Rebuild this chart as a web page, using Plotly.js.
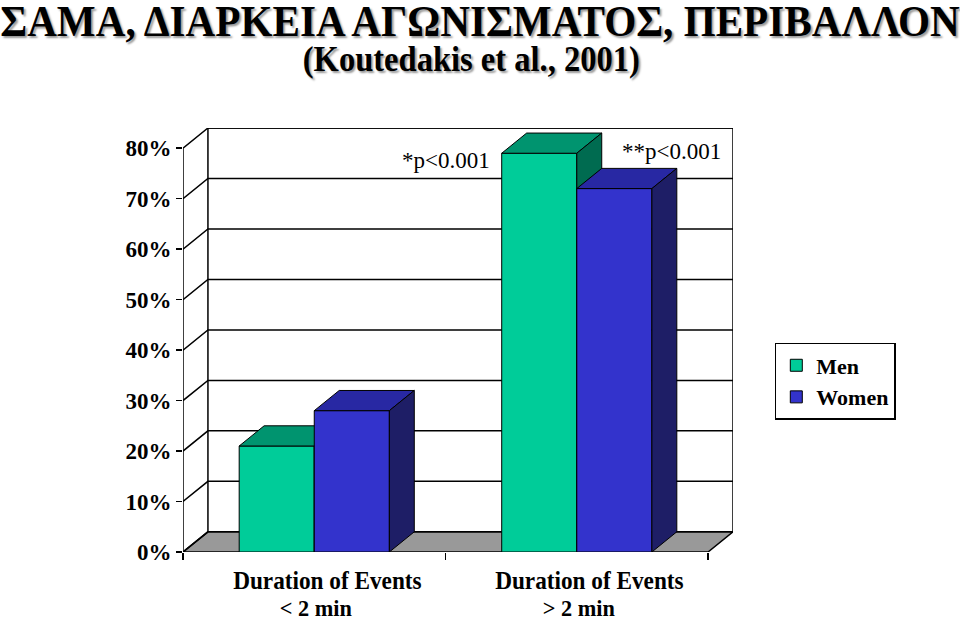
<!DOCTYPE html>
<html><head><meta charset="utf-8">
<script src="https://cdn.plot.ly/plotly-3.0.1.min.js"></script>
<style>html,body{margin:0;padding:0;background:#fff}#chart{width:960px;height:620px}</style>
</head><body><div id="chart"></div>
<script>
// ---- data ----
const titleText = 'ΣΑΜΑ, ΔΙΑΡΚΕΙΑ ΑΓΩΝΙΣΜΑΤΟΣ, ΠΕΡΙΒΑΛΛΟΝ';
const subtitleText = '(Koutedakis et al., 2001)';
const categories = ['Duration of Events', 'Duration of Events'];
const categorySub = ['&lt; 2 min', '&gt; 2 min'];
const seriesNames = ['Men', 'Women'];
const men = [21, 79];
const women = [28, 72];
const yTicks = [0, 10, 20, 30, 40, 50, 60, 70, 80];
const yTickLabels = ['0%', '10%', '20%', '30%', '40%', '50%', '60%', '70%', '80%'];
const pLabels = ['*p&lt;0.001', '**p&lt;0.001'];

// ---- style / geometry ----
const nCat = categories.length;
const barW = 0.286;
const DX = 0.095, DY = 4;
const yMax = 80;
const serif = 'Liberation Serif';
const faceColors = [
  {front: '#00CC99', top: '#00946F', side: '#006B50'},
  {front: '#3333CC', top: '#2828A3', side: '#1E1E66'}
];
const values = [men, women];

const traces = [];
function poly(xs, ys, fill, lw) {
  traces.push({type: 'scatter', mode: 'lines', x: xs.concat([xs[0]]), y: ys.concat([ys[0]]),
    fill: 'toself', fillcolor: fill, line: {color: '#000', width: lw || 1},
    hoverinfo: 'skip', showlegend: false});
}
// back wall
poly([DX, nCat + DX, nCat + DX, DX], [DY, DY, yMax + DY, yMax + DY], '#FFFFFF', 1.5);
// floor
poly([0, nCat, nCat + DX, DX], [0, 0, DY, DY], '#999999', 1.5);
// gridlines on side + back wall, front axis line
const gx = [], gy = [];
yTicks.forEach(v => { gx.push(0, DX, nCat + DX, null); gy.push(v, v + DY, v + DY, null); });
gx.push(0, 0, null); gy.push(0, yMax, null);
traces.push({type: 'scatter', mode: 'lines', x: gx, y: gy, line: {color: '#000', width: 1.5},
  hoverinfo: 'skip', showlegend: false});
// bars (painter's order)
for (let i = 0; i < nCat; i++) {
  const c = i + 0.5;
  values.forEach((vals, s) => {
    const v = vals[i];
    const x0 = c - barW + s * barW, x1 = x0 + barW;
    const col = faceColors[s];
    poly([x0, x1, x1, x0], [0, 0, v, v], col.front, 1);
    poly([x0, x1, x1 + DX, x0 + DX], [v, v, v + DY, v + DY], col.top, 1);
    poly([x1, x1 + DX, x1 + DX, x1], [0, DY, v + DY, v], col.side, 1);
  });
}
// legend entries
seriesNames.forEach((n, s) => traces.push({type: 'bar', x: [null], y: [null], name: n,
  marker: {color: faceColors[s].front, line: {color: '#000', width: 1}}, hoverinfo: 'skip'}));

const annotations = [];
const condenseIdx = [];
for (let i = 0; i < nCat; i++) {
  condenseIdx.push(annotations.length);
  annotations.push({x: i + 0.5, xref: 'x', y: 0, yref: 'paper', yanchor: 'middle', yshift: -28, xshift: 13,
    text: categories[i], showarrow: false, font: {family: serif, size: 25, weight: 'bold', color: '#000'}});
  condenseIdx.push(annotations.length);
  annotations.push({x: i + 0.5, xref: 'x', y: 0, yref: 'paper', yanchor: 'middle', yshift: -56, xshift: 2,
    text: categorySub[i], showarrow: false, font: {family: serif, size: 24, weight: 'bold', color: '#000'}});
}
annotations.push({x: 1.0, y: 77.6, xref: 'x', yref: 'y', text: pLabels[0], showarrow: false,
  font: {family: serif, size: 23, color: '#000'}});
annotations.push({x: 1.86, y: 79.3, xref: 'x', yref: 'y', text: pLabels[1], showarrow: false,
  font: {family: serif, size: 23, color: '#000'}});
// subtitle line
const subIdx = annotations.length;
annotations.push({x: 0.5, xref: 'paper', y: 1, yref: 'paper', yanchor: 'middle', yshift: 69,
  xshift: 13, text: subtitleText, showarrow: false,
  font: {family: serif, size: 35, weight: 'bold', color: '#000', shadow: '2px 2px 2px #999'}});

const layout = {
  width: 960, height: 620,
  margin: {l: 183, r: 227, t: 128, b: 68, pad: 0},
  paper_bgcolor: '#fff', plot_bgcolor: 'rgba(0,0,0,0)',
  title: {text: titleText, x: 0.5, xanchor: 'center', y: 0.968, yanchor: 'middle', yref: 'container',
    font: {family: serif, size: 45, weight: 'bold', color: '#000', shadow: '2px 2px 2px #999'}},
  showlegend: true,
  legend: {x: 1.076, y: 0.493, xanchor: 'left', yanchor: 'top', bgcolor: '#fff', bordercolor: '#000', borderwidth: 1.5,
    font: {family: serif, size: 22, weight: 'bold', color: '#000'}, traceorder: 'normal'},
  xaxis: {type: 'linear', range: [0, nCat + DX], showgrid: false, zeroline: false, showline: false,
    tickvals: [0, 1, 2], ticks: 'outside', ticklen: 7, tickcolor: '#000', tickwidth: 1.5, showticklabels: false, fixedrange: true},
  yaxis: {range: [0, yMax + DY], showgrid: false, zeroline: false, showline: false,
    tickvals: yTicks, ticktext: yTickLabels, ticks: 'outside', ticklen: 6, tickcolor: '#000', tickwidth: 1.5,
    tickfont: {family: serif, size: 23, weight: 'bold', color: '#000'}, fixedrange: true},
  annotations: annotations
};
function condense(el, sx) {
  // horizontally condense a text element around its own centre, like the reference's narrow type
  if (!el) return;
  const b = el.getBBox();
  const cx = b.x + b.width / 2;
  el.setAttribute('transform', (el.getAttribute('transform') || '') + ` translate(${cx},0) scale(${sx},1) translate(${-cx},0)`);
}
Plotly.newPlot('chart', traces, layout, {displayModeBar: false, staticPlot: true}).then(gd => {
  condense(gd.querySelector('.gtitle'), 0.915);
  condense(gd.querySelector(`.annotation[data-index="${subIdx}"] .annotation-text`), 0.93);
  condenseIdx.forEach(k => condense(gd.querySelector(`.annotation[data-index="${k}"] .annotation-text`), 0.93));
});
</script></body></html>
